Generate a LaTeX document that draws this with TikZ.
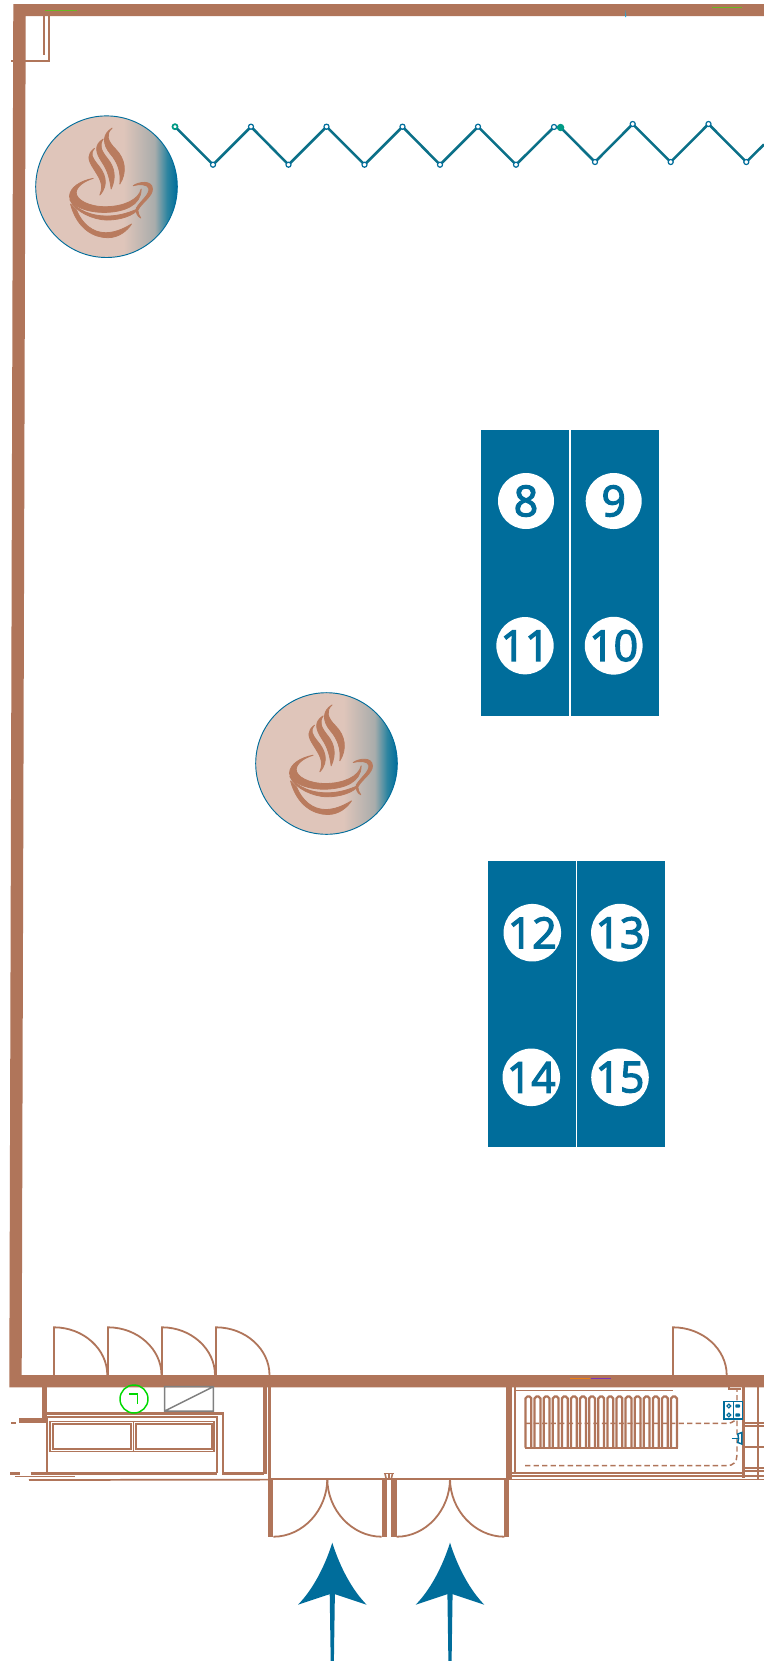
\documentclass[tikz,border=0pt]{standalone}
\usepackage{fontspec}
\newfontfamily\numfont[FakeBold=3]{Open Sans}
\definecolor{wall}{HTML}{B0755A}
\definecolor{bluefill}{HTML}{006D9B}
\definecolor{cupbrown}{HTML}{B97B5E}
\definecolor{cupbg}{HTML}{DFC5BA}
\definecolor{cupgrey}{HTML}{A9ACAB}
\definecolor{cupteal}{HTML}{2B84A0}
\definecolor{zig}{HTML}{0B7088}
\definecolor{zigg}{HTML}{009A85}
\pgfdeclarehorizontalshading{cupshade}{100bp}{color(0bp)=(cupbg); color(56bp)=(cupbg); color(67bp)=(cupgrey); color(71.5bp)=(cupteal); color(75bp)=(bluefill); color(100bp)=(bluefill)}
\tikzset{
  wl/.style={draw=wall,line width=1.3pt},
  wm/.style={draw=wall,line width=1.8pt},
  wt/.style={draw=wall,line width=0.9pt},
  doorleaf/.style={draw=wall,line width=1.35pt},
  solidwall/.style={fill=wall,draw=none},
  plate/.style={fill=bluefill,draw=none},
  numdot/.style={circle,fill=white,draw=none,inner sep=0pt,minimum size=42pt,text=bluefill,font=\numfont\fontsize{32}{32}\selectfont},
  zigline/.style={draw=zig,line width=1.9pt},
  pin/.style={circle,fill=white,draw=bluefill,line width=0.9pt,inner sep=0pt,minimum size=3.8pt},
  cupdisc/.style={draw=bluefill,line width=0.7pt,shading=cupshade},
  cupink/.style={fill=cupbrown,draw=cupbrown,line width=0.6pt,line join=round},
  bluestroke/.style={draw=bluefill,line width=1.1pt},
}
\newcommand{\cupicon}[2]{%
  \draw[cupdisc] (#1,#2) circle[radius=70.8];
  \begin{scope}[shift={(#1,#2)},x=0.25pt,y=-0.25pt,shift={(-228,-233)}]
    \filldraw[cupink] (192,118) .. controls (170,135) and (170,150) .. (190,180) .. controls (205,205) and (222,225) .. (208,258) .. controls (238,225) and (222,190) .. (200,165) .. controls (185,145) and (178,135) .. (192,118) -- cycle;
    \filldraw[cupink] (218,90) .. controls (190,108) and (195,130) .. (215,160) .. controls (232,185) and (238,210) .. (242,240) .. controls (258,205) and (252,175) .. (232,150) .. controls (212,125) and (205,110) .. (218,90) -- cycle;
    \filldraw[cupink] (245,57) .. controls (215,75) and (215,105) .. (240,135) .. controls (262,160) and (272,190) .. (268,225) .. controls (290,190) and (285,150) .. (255,120) .. controls (230,95) and (225,75) .. (245,57) -- cycle;
    \filldraw[cupink] (188,208) .. controls (150,215) and (118,235) .. (117,262) .. controls (118,290) and (170,312) .. (228,310) .. controls (280,308) and (332,290) .. (332,240) .. controls (325,272) and (280,292) .. (228,293) .. controls (175,294) and (136,272) .. (137,250) .. controls (139,230) and (165,215) .. (188,208) -- cycle;
    \filldraw[cupink] (118,272) .. controls (135,310) and (190,332) .. (228,333) .. controls (270,333) and (310,320) .. (325,298) .. controls (290,314) and (260,321) .. (228,321) .. controls (185,321) and (140,305) .. (118,272) -- cycle;
    \filldraw[cupink] (120,285) .. controls (140,360) and (190,386) .. (232,386) .. controls (265,386) and (290,365) .. (303,345) .. controls (275,362) and (250,371) .. (225,371) .. controls (187,371) and (155,345) .. (138,303) -- cycle;
    \filldraw[cupink] (308,230) .. controls (325,218) and (365,212) .. (366,240) .. controls (366,262) and (335,280) .. (322,303) .. controls (322,312) and (326,320) .. (331,327) .. controls (320,322) and (316,310) .. (317,298) .. controls (330,275) and (358,258) .. (355,238) .. controls (352,225) and (325,225) .. (308,230) -- cycle;
  \end{scope}}
\newcommand{\doorq}[3]{% hinge x, free x, wall y : leaf stands at hinge x
  \draw[doorleaf] (#1,#3) -- (#1,#3-47.7) .. controls ({#1+0.55*(#2-#1)},#3-47.7) and (#2,#3-26) .. (#2,#3);}
\newcommand{\bluearrow}[1]{%
  \fill[plate] (#1,1542.7) .. controls (#1+8,1568) and (#1+20,1590) .. (#1+34.3,1604.7) -- (#1,1593.3) -- (#1-34.3,1604.7) .. controls (#1-20,1590) and (#1-8,1568) .. (#1,1542.7) -- cycle;
  \fill[plate] (#1-2.6,1593) -- (#1+2.6,1593) -- (#1+1.6,1661) -- (#1-1.6,1661) -- cycle;}
\begin{document}
\begin{tikzpicture}[x=0.75pt,y=-0.75pt]
\useasboundingbox (0,0) rectangle (764,1661);
\clip (0,0) rectangle (764,1661);
\fill[white] (0,0) rectangle (764,1661);
% main walls
\fill[solidwall] (13.3,4) -- (764,4) -- (764,16) -- (25.7,16) -- (21.7,1375) -- (764,1375) -- (764,1387.3) -- (9.3,1387.3) -- cycle;
% thin survey marks on walls
\draw[draw=green!45!brown,line width=0.4pt] (45,10.3) -- (76.7,10.3);
\draw[draw=green!45!brown,line width=0.4pt] (711.7,7.3) -- (742.3,7.3);
\fill[cyan] (625.2,17) -- (626.2,17) -- (625.7,10) -- cycle;
\draw[draw=orange!70!brown,line width=0.8pt] (570,1378.7) -- (590,1378.7);
\draw[draw=violet!70!blue!80!white,line width=0.8pt] (591,1378.7) -- (610.7,1378.7);
% corner cupboard
\draw[wl] (43.7,16) -- (43.7,55);
\draw[wl] (48.7,16) -- (48.7,60.7) -- (11,60.7);
% zigzag
\foreach \n/\px/\py in {a/175/126.7,b/213/164.7,c/251/126.7,d/288.5/164.7,e/326.5/126.7,f/364.5/164.7,g/402.5/126.7,h/440/164.7,i/478/126.7,j/516/164.7,k/554/127,m/595/162,n/632.7/124,o/670.7/162,p/708.5/124,q/746.3/162}
  \coordinate (z\n) at (\px,\py);
\coordinate (zend) at (764,144.5);
\coordinate (zdot) at (560.6,127.5);
\draw[zigline] (za)--(zb)--(zc)--(zd)--(ze)--(zf)--(zg)--(zh)--(zi)--(zj)--(zk)--(zdot)--(zm)--(zn)--(zo)--(zp)--(zq)--(zend);
\foreach \n in {b,c,d,e,f,g,h,i,j,k,m,n,o,p,q}
  \node[pin] (pin\n) at (z\n) {};
\node[pin,draw=zigg,line width=1.3pt] (pina) at (za) {};
\node[pin,fill=zigg,draw=zigg,minimum size=4.6pt] (pindot) at (zdot) {};
% cups
\cupicon{106.5}{186.7}
\cupicon{326.5}{763.5}
% plates
\fill[plate] (481,430) rectangle (569,716);
\fill[plate] (571,430) rectangle (659,716);
\fill[plate] (488,861) rectangle (576,1146.7);
\fill[plate] (577,861) rectangle (665,1146.7);
\node[numdot] (n8) at (526,501) {8};
\node[numdot] (n9) at (613.7,501) {9};
\node[numdot] (n11) at (525,645.7) {11};
\node[numdot] (n10) at (613.7,645.7) {10};
\node[numdot] (n12) at (532.3,932.7) {12};
\node[numdot] (n13) at (620,932.7) {13};
\node[numdot] (n14) at (531.3,1077.3) {14};
\node[numdot] (n15) at (620,1077.3) {15};
% doors on the wall
\doorq{54}{107.3}{1375}
\doorq{108}{161.5}{1375}
\doorq{162}{215}{1375}
\doorq{216}{269.5}{1375}
\doorq{673}{726.7}{1375}
% left service room
\fill[solidwall] (41.7,1387) rectangle (46.7,1423);
\fill[solidwall] (19.3,1418) rectangle (46.7,1423);
\fill[solidwall] (11,1421.8) rectangle (16,1423.6);
\draw[wm] (46.7,1413.3) -- (222.7,1413.3) -- (222.7,1473.3) -- (264,1473.3);
\draw[wm] (46.7,1417) -- (217,1417) -- (217,1473.3);
\draw[wm] (30.7,1473.3) -- (217,1473.3);
\draw[wm] (46.7,1417) -- (46.7,1473.3);
\fill[solidwall] (10,1471.5) rectangle (20,1475);
\draw[wt] (15,1476.7) -- (75,1476.7);
\draw[wl] (29,1480) -- (268,1479.6);
\fill[solidwall] (263.3,1387) rectangle (266.7,1474);
\fill[solidwall] (267.7,1387) rectangle (271,1478);
% window
\draw[wt] (50,1421.7) rectangle (214,1451.7);
\draw[wl] (52.7,1424.3) rectangle (130.7,1449.3);
\draw[wl] (135.7,1424.3) rectangle (211.7,1449.3);
\draw[wt] (133.2,1421.7) -- (133.2,1451.7);
% marker and box
\draw[draw=green!85!black,line width=1.1pt] (134,1399) circle[radius=14];
\draw[draw=green!85!black,line width=1.1pt] (129.3,1394) -- (137.3,1394) -- (137.3,1404.3);
\draw[draw=gray,line width=1.1pt] (164.7,1386.7) rectangle (213.3,1411) (164.7,1411) -- (213.3,1386.7);
% entrance
\draw[wl] (268,1478.7) -- (508,1478.7);
\fill[solidwall] (268.3,1478) rectangle (273.3,1537);
\fill[solidwall] (381.7,1478) rectangle (386.7,1537);
\fill[solidwall] (391,1478) rectangle (396.7,1537);
\fill[solidwall] (504.3,1478) rectangle (509.3,1537);
\draw[doorleaf] (273.3,1536.7) .. controls (303,1536.7) and (327.3,1510) .. (327.3,1478.7);
\draw[doorleaf] (327.3,1478.7) .. controls (327.3,1510) and (352,1536.7) .. (381.7,1536.7);
\draw[doorleaf] (396.7,1536.7) .. controls (426,1536.7) and (450,1510) .. (450,1478.7);
\draw[doorleaf] (450,1478.7) .. controls (450,1510) and (475,1536.7) .. (504.3,1536.7);
\draw[wt,line width=1.2pt] (383.5,1473.6) -- (394,1473.6);
\draw[wt,line width=1.2pt] (385,1473.6) -- (386,1478) (389,1473.6) -- (389,1478) (392.5,1473.6) -- (391.5,1478);
% right service room
\fill[solidwall] (506,1387) rectangle (511.7,1480);
\draw[wt,line width=1.2pt] (515,1387) -- (515,1472.7);
\fill[solidwall] (504,1480) rectangle (509,1500);
\draw[wl] (515,1390.5) -- (673,1390.5);
\draw[wm] (511,1472.7) -- (741.7,1472.7);
\draw[wm] (509,1476) -- (764,1476);
\draw[wl] (509,1479.5) -- (764,1479.5);
\draw[wm,line width=2.2pt] (743.3,1387) -- (743.3,1478);
\draw[wl] (729,1387) -- (729,1389) -- (741,1389);
\draw[wl] (758,1387) -- (758,1480);
\draw[wl] (745,1423.3) -- (764,1423.3) (745,1426) -- (764,1426);
\draw[wl] (745,1446.7) -- (764,1446.7);
\draw[wl] (745,1468) -- (764,1468) (745,1471) -- (764,1471);
% rack
\foreach \i in {0,...,16}
  \draw[wl,line width=1.7pt,rounded corners=1.4pt] ({525.5+9.1*\i},1447.7) -- ({525.5+9.1*\i},1396.5) -- ({531.3+9.1*\i},1396.5) -- ({531.3+9.1*\i},1447.7);
\draw[wl,line width=1.7pt] (525,1447.7) -- (678,1447.7);
% cable runs
\draw[wt,line width=1.1pt,dash pattern=on 4pt off 2.4pt] (525,1423.3) -- (727,1423.3) .. controls (733,1423.3) and (737,1420) .. (737,1414);
\draw[wt,line width=1.1pt,dash pattern=on 4pt off 2.4pt] (525,1465.7) -- (727,1465.7) .. controls (733,1465.7) and (737,1462) .. (737,1455) -- (737,1390);
% stove
\fill[white] (724,1401.7) rectangle (742.3,1419);
\draw[bluestroke] (724,1401.7) rectangle (742.3,1419) (733.5,1401.7) -- (733.5,1419);
\draw[bluestroke,line width=0.9pt] (728.8,1406) circle[radius=1.9] (728.8,1415) circle[radius=1.9];
\fill[plate,rounded corners=0.6pt] (735.3,1404.3) rectangle (740,1407.6) (735.3,1413.3) rectangle (740,1416.6);
% tap
\draw[bluestroke] (731.7,1438.3) -- (738,1438.3);
\draw[bluestroke] (741.8,1432.5) -- (737.8,1434) .. controls (738.8,1437) and (738.8,1440) .. (737.8,1442.5) -- (741.8,1444) -- cycle;
% arrows
\bluearrow{332.3}
\bluearrow{450}
\end{tikzpicture}
\end{document}
